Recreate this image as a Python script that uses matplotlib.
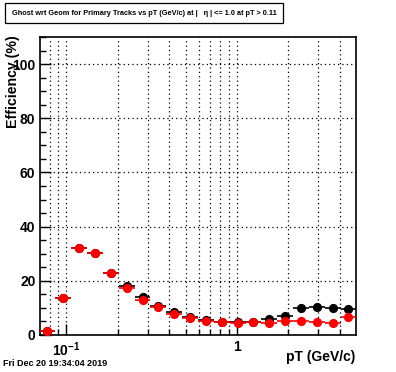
import matplotlib
matplotlib.use('Agg')
import matplotlib.pyplot as plt
import numpy as np
from matplotlib.ticker import FixedLocator, NullFormatter, MultipleLocator

plt.rcParams['font.family'] = ['Liberation Sans', 'DejaVu Sans']
plt.rcParams['font.weight'] = 'bold'
plt.rcParams['mathtext.fontset'] = 'custom'
plt.rcParams['mathtext.rm'] = 'Liberation Sans:bold'
plt.rcParams['mathtext.bf'] = 'Liberation Sans:bold'

# bin edges in pT (GeV/c), 20 log bins
bin_edges = [0.0700, 0.0866, 0.1072, 0.1327, 0.1643, 0.2034, 0.2518, 0.3118,
             0.3860, 0.4778, 0.5916, 0.7323, 0.9066, 1.1224, 1.3895, 1.7202,
             2.1296, 2.6366, 3.2637, 4.0398, 5.0000]

# efficiency (%) per bin
eff_black = [1.5, 13.6, 32.1, 30.1, 22.8, 18.1, 13.8, 10.7, 8.5, 6.6,
             5.3, 4.9, 4.6, 4.8, 5.7, 6.8, 9.9, 10.3, 10.0, 9.5]
eff_red = [1.3, 13.6, 32.1, 30.1, 22.8, 17.2, 13.0, 10.1, 7.8, 6.3,
           5.2, 4.8, 4.4, 4.7, 4.4, 5.1, 5.1, 4.7, 4.4, 6.7]

edges = np.array(bin_edges)
centers = np.sqrt(edges[:-1] * edges[1:])
xerr = [centers - edges[:-1], edges[1:] - centers]

fig = plt.figure(figsize=(3.96, 3.72), dpi=100)
ax = fig.add_axes([0.1, 0.1, 0.8, 0.8])

for vals, col in [(eff_black, 'black'), (eff_red, 'red')]:
    ax.errorbar(centers, vals, xerr=xerr, fmt='o', color=col, ms=5.6,
                mec=col, elinewidth=1.2, capsize=0, zorder=3)

ax.set_xscale('log')
ax.set_xlim(bin_edges[0], bin_edges[-1])
ax.set_ylim(0, 110)

ax.xaxis.set_major_locator(FixedLocator([0.1, 1]))
ax.xaxis.set_minor_locator(FixedLocator([0.08, 0.09, 0.2, 0.3, 0.4, 0.5, 0.6, 0.7,
                                         0.8, 0.9, 2, 3, 4]))
ax.xaxis.set_minor_formatter(NullFormatter())
ax.set_xticklabels([r'$10^{-1}$', '1'])
ax.yaxis.set_major_locator(MultipleLocator(20))
ax.yaxis.set_minor_locator(MultipleLocator(5))

ax.tick_params(which='both', direction='in', top=False, right=False,
               labelsize=10, width=1)
ax.tick_params(which='major', length=8)
ax.tick_params(which='minor', length=4.5)
ax.tick_params(axis='x', pad=4)
ax.tick_params(axis='y', pad=3)

gs = dict(color='black', linestyle=(0, (1, 2.5)), linewidth=0.9)
ax.grid(True, which='both', axis='x', **gs)
ax.grid(True, which='major', axis='y', **gs)
ax.set_axisbelow(True)
for s in ax.spines.values():
    s.set_linewidth(1.2)

fig.text(0.897, 0.04, 'pT (GeV/c)', ha='right', va='center', fontsize=10)
fig.text(0.032, 0.905, 'Efficiency (%)', ha='center', va='top', rotation=90, fontsize=10.2)
fig.text(0.008, 0.022, 'Fri Dec 20 19:34:04 2019', ha='left', va='center', fontsize=6.5)

fig.text(0.03, 0.965, 'Ghost wrt Geom for Primary Tracks vs pT (GeV/c) at |   \u03b7 | <= 1.0 at pT > 0.11',
         ha='left', va='center', fontsize=5.3,
         bbox=dict(boxstyle='square,pad=0.9', fc='white', ec='black', lw=0.9))

fig.savefig('out.png', dpi=100)
